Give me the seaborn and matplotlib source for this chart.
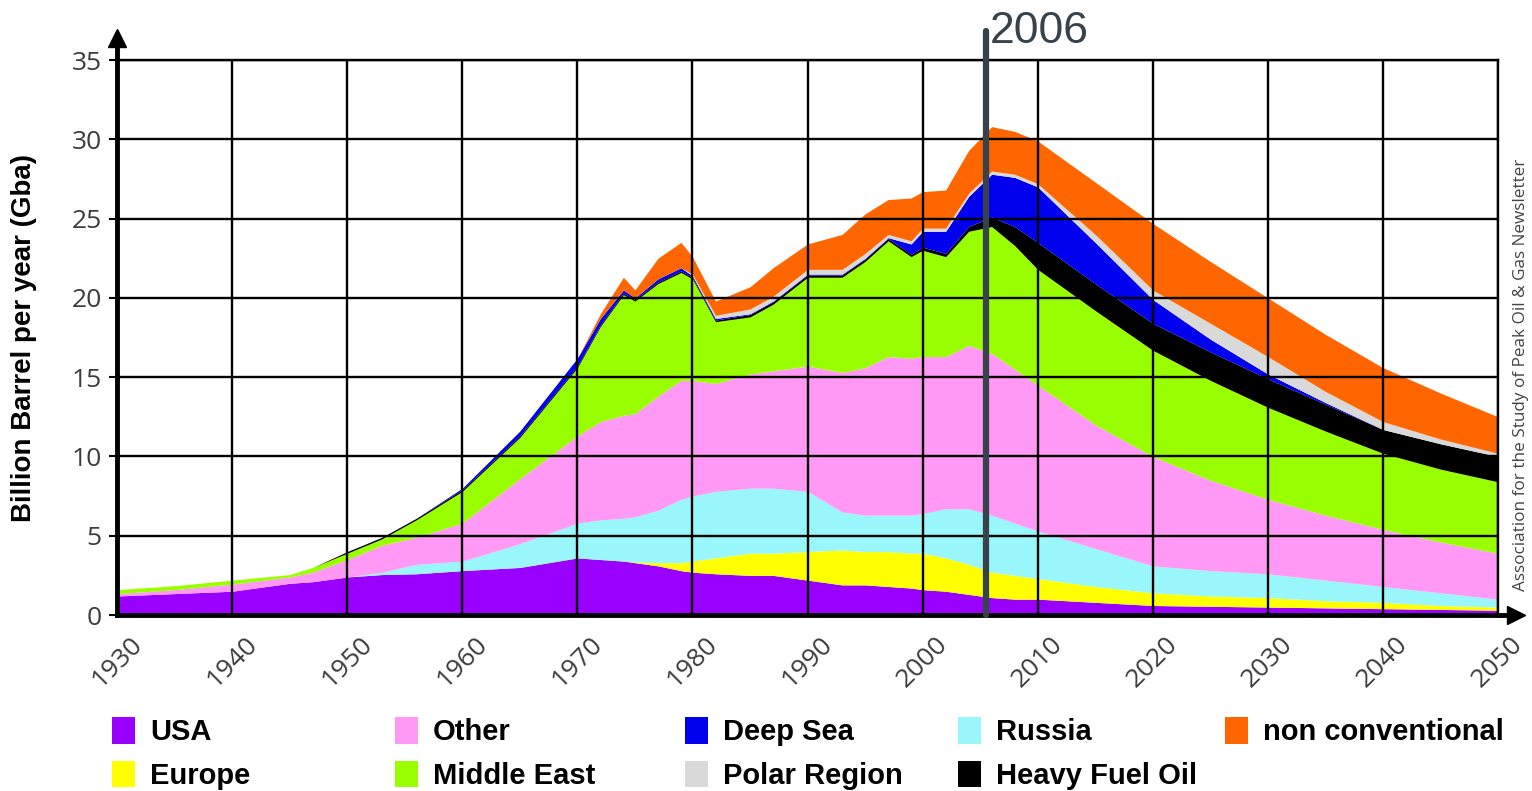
import matplotlib
matplotlib.use("Agg")
import matplotlib.pyplot as plt
from matplotlib.patches import Patch
import pandas as pd
import seaborn as sns

# values (Gb per year, not stacked)
years = [1930, 1935, 1940, 1945, 1947, 1950, 1953, 1956, 1960, 1965, 1970, 1972,
         1974, 1975, 1977, 1979, 1980, 1982, 1985, 1987, 1990, 1993, 1995, 1997,
         1999, 2000, 2002, 2004, 2006, 2008, 2010, 2015, 2020, 2025, 2030, 2035,
         2040, 2045, 2050]
usa = [1.2, 1.35, 1.5, 2.0, 2.1, 2.4, 2.55, 2.6, 2.8, 3.0, 3.6, 3.5,
       3.4, 3.3, 3.1, 2.8, 2.7, 2.6, 2.5, 2.5, 2.2, 1.9, 1.9, 1.8,
       1.7, 1.6, 1.5, 1.3, 1.1, 1.0, 1.0, 0.8, 0.6, 0.55, 0.5, 0.45,
       0.4, 0.35, 0.3]
europe = [0, 0, 0, 0, 0, 0, 0, 0, 0, 0, 0, 0,
          0, 0.05, 0.2, 0.5, 0.7, 1.0, 1.4, 1.4, 1.8, 2.2, 2.1, 2.2,
          2.2, 2.3, 2.1, 1.9, 1.6, 1.5, 1.3, 1.0, 0.8, 0.65, 0.6, 0.45,
          0.4, 0.25, 0.2]
russia = [0, 0, 0, 0, 0, 0, 0.15, 0.6, 0.6, 1.5, 2.2, 2.5,
          2.7, 2.85, 3.3, 4.0, 4.1, 4.2, 4.1, 4.1, 3.8, 2.4, 2.3, 2.3,
          2.4, 2.5, 3.1, 3.5, 3.6, 3.3, 3.0, 2.4, 1.7, 1.6, 1.5, 1.3,
          1.0, 0.8, 0.5]
other = [0.15, 0.25, 0.45, 0.4, 0.6, 1.1, 1.7, 1.7, 2.4, 4.1, 5.5, 6.2,
         6.5, 6.5, 7.2, 7.5, 7.3, 6.8, 7.2, 7.4, 7.9, 8.8, 9.3, 10.0,
         9.9, 9.9, 9.6, 10.3, 10.2, 9.7, 9.2, 7.8, 6.9, 5.7, 4.7, 4.1,
         3.6, 3.2, 2.9]
middle_east = [0.25, 0.25, 0.25, 0.15, 0.3, 0.4, 0.4, 1.1, 2.0, 2.6, 4.3, 6.0,
               7.6, 7.1, 7.1, 6.8, 6.4, 3.9, 3.6, 4.2, 5.6, 6.0, 6.7, 7.3,
               6.4, 6.7, 6.3, 7.2, 8.0, 7.8, 7.3, 7.2, 6.7, 6.3, 5.8, 5.3,
               4.8, 4.6, 4.5]
heavy_fuel = [0, 0, 0, 0, 0, 0.1, 0.1, 0.1, 0.1, 0.1, 0.1, 0.1,
              0.1, 0.1, 0.1, 0.1, 0.1, 0.1, 0.15, 0.15, 0.15, 0.15, 0.15, 0.15,
              0.15, 0.2, 0.2, 0.3, 0.6, 1.2, 1.7, 1.7, 1.7, 1.8, 1.8, 1.7,
              1.5, 1.6, 1.6]
deep_sea = [0, 0, 0, 0, 0, 0, 0, 0, 0.1, 0.3, 0.5, 0.4,
            0.2, 0.1, 0.2, 0.2, 0.1, 0.1, 0.05, 0.05, 0.05, 0.05, 0.05, 0.05,
            0.65, 1.0, 1.4, 1.9, 2.7, 3.1, 3.5, 2.6, 1.5, 0.8, 0.3, 0.1,
            0, 0, 0]
polar = [0, 0, 0, 0, 0, 0, 0, 0, 0, 0, 0, 0,
         0, 0, 0, 0, 0.1, 0.2, 0.3, 0.3, 0.3, 0.3, 0.3, 0.2,
         0.2, 0.2, 0.2, 0.2, 0.2, 0.2, 0.2, 0.5, 0.6, 1.0, 1.1, 0.7,
         0.5, 0.3, 0.2]
non_conventional = [0, 0, 0, 0, 0, 0, 0, 0, 0, 0, 0, 0.3,
                    0.8, 0.5, 1.3, 1.6, 1.1, 0.9, 1.4, 1.8, 1.6, 2.2, 2.5, 2.2,
                    2.7, 2.3, 2.4, 2.7, 2.8, 2.7, 2.7, 3.3, 4.2, 3.9, 3.7, 3.6,
                    3.4, 2.9, 2.3]

series_names = ["USA", "Europe", "Russia", "Other", "Middle East",
                "Heavy Fuel Oil", "Deep Sea", "Polar Region", "non conventional"]
series_colors = ["#9900ff", "#ffff00", "#99f7fb", "#ff99f5", "#99ff00",
                 "#000000", "#0000ee", "#d9d9d9", "#ff6600"]

df = pd.DataFrame({
    "year": years, "USA": usa, "Europe": europe, "Russia": russia,
    "Other": other, "Middle East": middle_east, "Heavy Fuel Oil": heavy_fuel,
    "Deep Sea": deep_sea, "Polar Region": polar,
    "non conventional": non_conventional,
})

sns.set_style("white", rc={"text.color": "black", "axes.labelcolor": "black"})
plt.rcParams["font.family"] = ["Liberation Sans", "DejaVu Sans"]

fig = plt.figure(figsize=(15.32, 7.91), dpi=100)
ax = fig.add_axes([0.0764, 0.2225, 0.9014, 0.7016])

palette = sns.color_palette(series_colors)
ax.stackplot(df["year"], df[series_names].T.values, colors=palette,
             linewidth=0, zorder=1)

ax.set_xlim(1930, 2050)
ax.set_ylim(0, 35)
ax.set_xticks(range(1930, 2051, 10))
ax.set_yticks(range(0, 36, 5))
ax.grid(True, color="black", linewidth=1.7)
ax.set_axisbelow(False)

for side in ["top", "right"]:
    ax.spines[side].set_color("black")
    ax.spines[side].set_linewidth(1.7)
for side in ["left", "bottom"]:
    ax.spines[side].set_color("black")
    ax.spines[side].set_linewidth(3.5)
    ax.spines[side].set_zorder(4)

# arrow heads on the two axes
ax.plot([1930, 1930], [35, 36.2], color="black", lw=3.5, clip_on=False, zorder=4)
ax.plot(1930, 36.4, marker="^", ms=13, color="black", clip_on=False, zorder=4)
ax.plot([2050, 2051.2], [0, 0], color="black", lw=3.5, clip_on=False, zorder=4)
ax.plot(2051.6, 0, marker=">", ms=13, color="black", clip_on=False, zorder=4)

tick_font = {"family": ["Open Sans", "DejaVu Sans"], "size": 19, "color": "#3c3c3c"}
ax.set_xticklabels([str(y) for y in range(1930, 2051, 10)], rotation=45,
                   ha="center", fontdict=tick_font)
ax.set_yticklabels([str(v) for v in range(0, 36, 5)], fontdict=tick_font)
ax.tick_params(axis="y", length=6, width=1.5, color="black", pad=5, left=True)
ax.tick_params(axis="x", length=0, pad=12)

ax.set_ylabel("Billion Barrel per year (Gba)", fontsize=20, fontweight="bold")
ax.yaxis.set_label_coords(-0.058, 0.5)

# 2006 marker
ax.plot([2005.5, 2005.5], [0, 36.8], color="#37424a", lw=4.5,
        clip_on=False, zorder=6)
ax.text(2005.8, 36.1, "2006", fontsize=32, color="#37424a", ha="left",
        va="baseline", clip_on=False)

fig.text(0.993, 0.526, "Association for the Study of Peak Oil & Gas Newsletter",
         rotation=90, ha="center", va="center", fontsize=12.3, color="#444444",
         family=["Open Sans", "DejaVu Sans"])

# legend, laid out in five columns like the original
legend_cols = [["USA", "Europe"], ["Other", "Middle East"],
               ["Deep Sea", "Polar Region"], ["Russia", "Heavy Fuel Oil"],
               ["non conventional"]]
legend_x = [0.0731, 0.2578, 0.4471, 0.6253, 0.7996]
color_of = dict(zip(series_names, series_colors))
for names, x in zip(legend_cols, legend_x):
    handles = [Patch(facecolor=color_of[n], edgecolor="none") for n in names]
    fig.legend(handles, names, loc="upper left", bbox_to_anchor=(x, 0.093),
               frameon=False, borderpad=0, borderaxespad=0,
               handlelength=0.8, handleheight=1.0, handletextpad=0.5,
               labelspacing=0.5, labelcolor="black",
               prop={"size": 21, "weight": "bold"})

fig.savefig("out.png", dpi=100)
